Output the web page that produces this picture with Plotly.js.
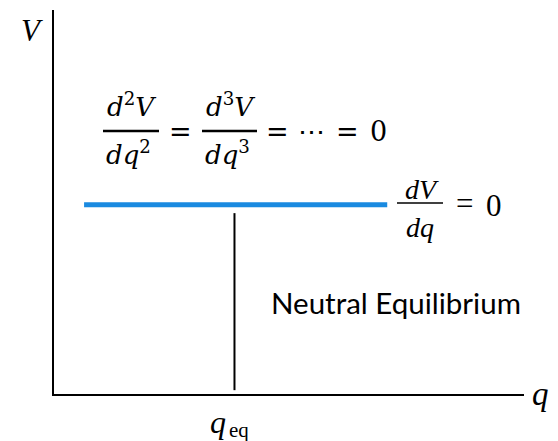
<!DOCTYPE html>
<html>
<head>
<meta charset="utf-8">
<script src="https://cdn.plot.ly/plotly-3.0.1.min.js"></script>
<style>html,body{margin:0;padding:0;background:#fff;}#chart{width:558px;height:441px;}</style>
</head>
<body>
<div id="chart"></div>
<script>
// ---- data (axis units 0..100) ----
const potentialX = [6.4, 70.9];      // horizontal V(q) line, flat
const potentialY = [49.3, 49.3];
const qEqX = [38.4, 38.4];           // equilibrium marker
const qEqY = [1.0, 47.1];
const xRange = [0, 100];
const yRange = [0, 100];

// ---- layout helpers (pixel -> paper) ----
const W = 558, H = 441;
const M = {l: 54, r: 34, t: 10, b: 47};
const PW = W - M.l - M.r, PH = H - M.t - M.b;
const px = x => (x - M.l) / PW;
const py = y => (H - M.b - y) / PH;

const serif = "'Liberation Serif'";
const mathF = "DejaVu Serif";
function ann(text, x, y, size, fam, opts) {
  return Object.assign({
    text: text, xref: 'paper', yref: 'paper', x: px(x), y: py(y),
    xanchor: 'center', yanchor: 'middle', showarrow: false,
    font: {family: fam || serif, size: size, color: '#000'}
  }, opts || {});
}
function bar(x0, x1, y, w) {
  return {type: 'line', xref: 'paper', yref: 'paper', x0: px(x0), x1: px(x1), y0: py(y), y1: py(y),
    line: {color: '#000', width: w || 2}};
}

const annotations = [
  ann('<i>V</i>', 32, 30, 31, 'Times New Roman'),
  ann('<i>q</i>', 540, 394, 33, 'Liberation Serif'),
  ann('<i>q</i>', 218, 422, 32),
  ann('eq', 239, 430, 21),
  ann('Neutral Equilibrium', 396, 302, 29.5, 'Lato'),
  // big equation
  ann('<i>d</i><sup>2</sup><i>V</i>', 131, 105, 26, mathF),
  ann('<i>dq</i><sup>2</sup>', 128, 153, 26, mathF),
  ann('=', 180, 131, 27, mathF),
  ann('<i>d</i><sup>3</sup><i>V</i>', 230, 105, 26, mathF),
  ann('<i>dq</i><sup>3</sup>', 227, 153, 26, mathF),
  ann('=', 277, 131, 27, mathF),
  ann('⋯', 311, 131, 27, mathF),
  ann('=', 347, 131, 27, mathF),
  ann('0', 378, 131, 27, mathF),
  // small equation
  ann('<i>dV</i>', 422, 189, 28),
  ann('<i>dq</i>', 420, 227, 28),
  ann('=', 464, 203, 31),
  ann('0', 494, 205, 31)
];
const shapes = [
  bar(103, 159, 131, 2.5),
  bar(202, 257, 131, 2.5),
  bar(397, 443, 203, 1.5)
];

const traces = [
  {x: potentialX, y: potentialY, mode: 'lines', line: {color: '#1a8ae0', width: 5}, hoverinfo: 'skip'},
  {x: qEqX, y: qEqY, mode: 'lines', line: {color: '#000', width: 2}, hoverinfo: 'skip'}
];

const axisBase = {showgrid: false, zeroline: false, showticklabels: false, ticks: '',
  showline: true, linecolor: '#000', linewidth: 2, fixedrange: true};

Plotly.newPlot('chart', traces, {
  width: W, height: H, margin: M, showlegend: false,
  paper_bgcolor: '#fff', plot_bgcolor: '#fff',
  xaxis: Object.assign({range: xRange}, axisBase),
  yaxis: Object.assign({range: yRange}, axisBase),
  annotations: annotations, shapes: shapes
}, {staticPlot: true, displayModeBar: false});
</script>
</body>
</html>
